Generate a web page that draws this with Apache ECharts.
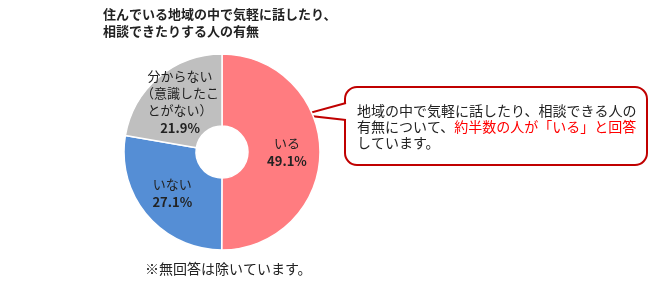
<!DOCTYPE html>
<html><head><meta charset="utf-8">
<script src="https://cdn.jsdelivr.net/npm/echarts@6/dist/echarts.min.js"></script>
<style>html,body{margin:0;padding:0;background:#fff}#c{width:650px;height:288px}</style>
</head><body><div id="c"></div>
<script>
const categories = ['いる', 'いない', '分からない\n（意識したこ\nとがない）'];
const values = [49.1, 27.1, 21.9];
const colors = ['#FF7C80', '#558ED5', '#BFBFBF'];
const titleLines = ['住んでいる地域の中で気軽に話したり、', '相談できたりする人の有無'];
const calloutLines = [
  [{t:'地域の中で気軽に話したり、相談できる人の', red:false}],
  [{t:'有無について、', red:false}, {t:'約半数の人が「いる」と回答', red:true}],
  [{t:'しています。', red:false}]
];
const footnote = '※無回答は除いています。';

const font = '"Noto Sans CJK JP", sans-serif';
const chart = echarts.init(document.getElementById('c'), null, {renderer:'canvas'});

const calloutText = calloutLines.map(line => line.map(s => s.red ? '{r|' + s.t + '}' : '{k|' + s.t + '}').join('')).join('\n');

chart.setOption({
  animation: false,
  series: [{
    type: 'pie',
    center: [222, 152],
    radius: [26, 98],
    startAngle: 90,
    clockwise: true,
    itemStyle: { borderColor: '#fff', borderWidth: 1.5 },
    label: {
      position: 'inside',
      formatter: p => p.name.split('\n').map(s => '{n|' + s + '}').join('\n') + '\n{v|' + p.value.toFixed(1) + '%}',
      rich: {
        n: { fontFamily: font, fontSize: 13, color: '#222', lineHeight: 17 },
        v: { fontFamily: font, fontSize: 13, fontWeight: 'bold', color: '#222', lineHeight: 19 }
      }
    },
    labelLine: { show: false },
    data: categories.map((c, i) => ({ name: c, value: values[i], itemStyle: { color: colors[i] } }))
  }],
  graphic: [
    { type: 'text', left: 103, top: 6, style: { text: titleLines.join('\n'), font: 'bold 13px ' + font, fill: '#222', lineHeight: 17 } },
    { type: 'rect', shape: { x: 345, y: 87, width: 302, height: 78, r: 12 }, style: { fill: '#fff', stroke: '#C00000', lineWidth: 2 } },
    { type: 'polygon', shape: { points: [[347, 103], [302, 115], [347, 120]] }, style: { fill: '#fff' } },
    { type: 'polyline', shape: { points: [[346, 103], [302, 115], [346, 120]] }, style: { stroke: '#C00000', lineWidth: 2, fill: null } },
    { type: 'text', left: 357, top: 104, style: {
      text: calloutText,
      rich: {
        k: { fontFamily: font, fontSize: 14, fill: '#222', lineHeight: 16 },
        r: { fontFamily: font, fontSize: 14, fill: '#FF0000', lineHeight: 16 }
      }
    } },
    { type: 'text', left: 145, top: 262, style: { text: footnote, font: '14px ' + font, fill: '#222' } }
  ]
});
</script>
</body></html>
